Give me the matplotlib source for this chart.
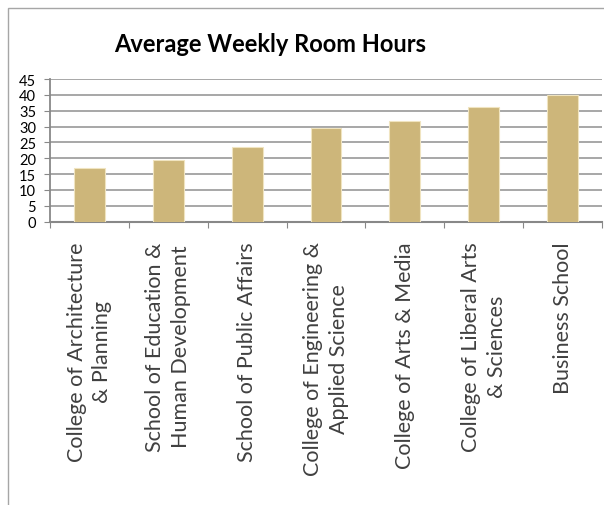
import matplotlib
matplotlib.use("Agg")
import matplotlib.pyplot as plt
from matplotlib.patches import Rectangle

categories = [
    "College of Architecture\n& Planning",
    "School of Education &\nHuman Development",
    "School of Public Affairs",
    "College of Engineering &\nApplied Science",
    "College of Arts & Media",
    "College of Liberal Arts\n& Sciences",
    "Business School",
]
values = [16.8, 19.6, 23.5, 29.6, 31.6, 36.2, 39.8]
yticks = [0, 5, 10, 15, 20, 25, 30, 35, 40, 45]
title = "Average Weekly Room Hours"

W, H = 604, 506
fig = plt.figure(figsize=(W / 100, H / 100), dpi=100)
fig.patch.set_facecolor("white")

# outer chart frame (partially cropped in reference)
frame = Rectangle((8 / W, -0.1), 1.2, 1 - 9 / H + 0.1, transform=fig.transFigure,
                  fill=False, edgecolor="#A6A6A6", linewidth=1.0)
fig.patches.append(frame)

ax = fig.add_axes([50 / W, 1 - 222.7 / H, (602 - 50) / W, (222.7 - 80) / H])
x = list(range(len(categories)))
ax.bar(x, values, width=0.39, color="#CDB67A", edgecolor="#F0E4C0", linewidth=0.8, zorder=3)

ax.set_xlim(-0.5, len(categories) - 0.5)
ax.set_ylim(0, 45)
ax.set_yticks(yticks)
ax.set_yticklabels([str(v) for v in yticks], fontsize=10.5, family="Lato")
ax.yaxis.grid(True, color="#A0A0A0", linewidth=1.3, zorder=0)
ax.set_axisbelow(True)

# x ticks at category boundaries, labels at centers
ax.set_xticks([i - 0.5 for i in range(len(categories) + 1)])
ax.set_xticklabels([])
ax.set_xticks(x, minor=True)
ax.set_xticklabels(categories, minor=True, rotation=90, ha="center", va="top",
                   multialignment="center", fontsize=15.5, family="Lato", fontweight="normal",
                   color="#404040", linespacing=1.35)
ax.tick_params(axis="x", which="minor", length=0, pad=14)
ax.tick_params(axis="x", which="major", length=4, color="#888888", direction="out")
ax.tick_params(axis="y", length=4, color="#888888", direction="out", pad=6)

for s in ["top", "right"]:
    ax.spines[s].set_visible(False)
ax.spines["left"].set_color("#888888")
ax.spines["left"].set_linewidth(1.3)
ax.spines["bottom"].set_color("#888888")
ax.spines["bottom"].set_linewidth(1.5)

fig.text(270 / W, 1 - 45 / H, title, ha="center", va="center", fontsize=17,
         fontweight="bold", family="Lato")

fig.savefig("out.png", dpi=100)
